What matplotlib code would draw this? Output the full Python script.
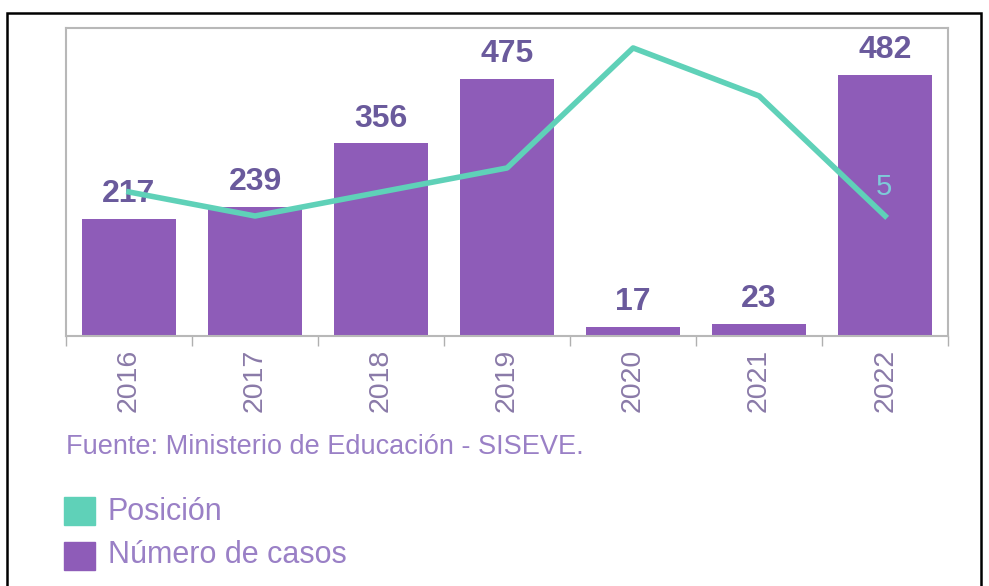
import matplotlib.pyplot as plt
from matplotlib.patches import Rectangle

# Data
years = ["2016", "2017", "2018", "2019", "2020", "2021", "2022"]
casos = [217, 239, 356, 475, 17, 23, 482]
posicion = [6, 5, 6, 7, 12, 10, 5]

bar_color = "#8e5cb8"
line_color = "#5fd1b8"
label_color = "#6a5a9c"
tick_color = "#8a7aa8"
text_color = "#9a80c6"

plt.rcParams["font.family"] = ["Liberation Sans", "DejaVu Sans"]

fig = plt.figure(figsize=(9.89, 5.86), dpi=100)
ax = fig.add_axes([0.0667, 0.4266, 0.892, 0.5256])

x = list(range(len(years)))
ax.bar(x, casos, width=0.75, color=bar_color, zorder=2)
for xi, v in zip(x, casos):
    ax.annotate(str(v), (xi, v), xytext=(0, 7), textcoords="offset points",
                ha="center", va="bottom", fontsize=23, fontweight="bold",
                color=label_color, zorder=5)

ax.set_xlim(-0.48, 6.5)
ax.set_ylim(0, 569)
ax.set_yticks([])
ax.set_xticks([i + 0.5 for i in range(-1, len(years))])
ax.set_xticklabels([])
ax.set_xticks(x, minor=True)
ax.set_xticklabels(years, minor=True, rotation=90, fontsize=20.5, color=tick_color)
ax.tick_params(axis="x", which="major", length=7, width=1, color="#b0b0b0", direction="out")
ax.tick_params(axis="x", which="minor", length=0, pad=9)
for side in ["left", "top", "right", "bottom"]:
    ax.spines[side].set_color("#b8b8b8")
    ax.spines[side].set_linewidth(1.5)

# secondary axis for the position line
ax2 = ax.twinx()
ax2.plot(x, posicion, color=line_color, linewidth=4, zorder=3)
ax2.set_ylim(0, 12.83)
ax2.set_yticks([])
for side in ["left", "top", "right", "bottom"]:
    ax2.spines[side].set_visible(False)
ax2.annotate(str(posicion[-1]), (x[-1], posicion[-1]), xytext=(-1, 11),
             textcoords="offset points", ha="center", va="bottom",
             fontsize=21, color="#7ecad8")

fig.text(0.067, 0.237, "Fuente: Ministerio de Educación - SISEVE.",
         fontsize=19.5, color=text_color, va="center")

# legend
fig.patches.append(Rectangle((64 / 989, 1 - 525 / 586), 31 / 989, 28 / 586,
                             transform=fig.transFigure, color=line_color))
fig.patches.append(Rectangle((64 / 989, 1 - 570 / 586), 31 / 989, 28 / 586,
                             transform=fig.transFigure, color=bar_color))
fig.text(108 / 989, 1 - 512 / 586, "Posición", fontsize=22, color=text_color, va="center")
fig.text(108 / 989, 1 - 555 / 586, "Número de casos", fontsize=22, color=text_color, va="center")

# outer frame
fig.patches.append(Rectangle((7 / 989, -0.05), 974 / 989, 1.05 - 13 / 586,
                             transform=fig.transFigure, fill=False,
                             edgecolor="black", linewidth=1.8))

plt.savefig("out.png", dpi=100)
